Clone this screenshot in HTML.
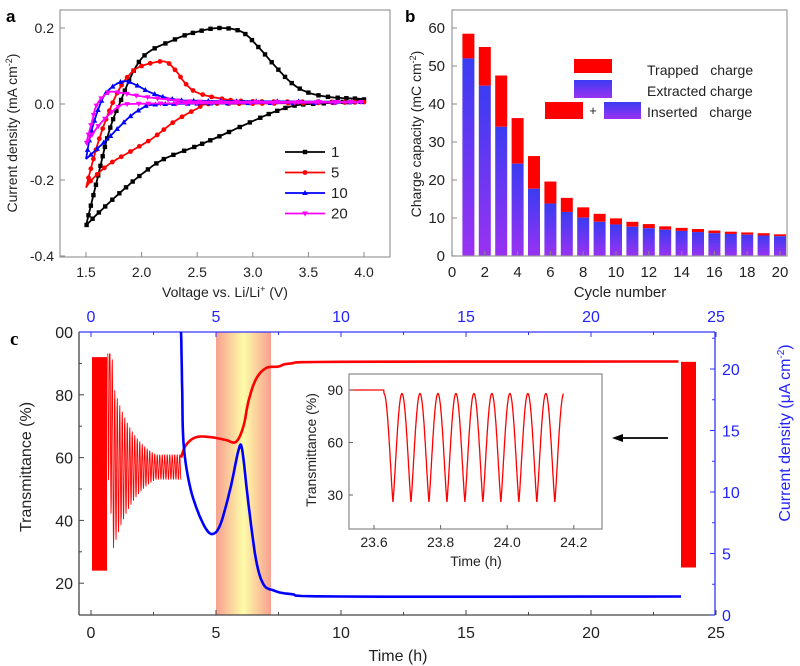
<!DOCTYPE html>
<html><head><meta charset="utf-8"><style>
body{margin:0;background:#fff}
svg{display:block;font-family:"Liberation Sans",sans-serif}
</style></head><body>
<svg id="s" width="800" height="666" viewBox="0 0 800 666" xmlns="http://www.w3.org/2000/svg">
<defs>
<linearGradient id="bg" x1="0" y1="0" x2="0" y2="1"><stop offset="0" stop-color="#3a3cf2"/><stop offset="1" stop-color="#9a32f2"/></linearGradient>
<linearGradient id="band" x1="0" y1="0" x2="1" y2="0"><stop offset="0" stop-color="#f8a090"/><stop offset="0.5" stop-color="#fdfca8"/><stop offset="1" stop-color="#f8a090"/></linearGradient>
</defs>
<g id="g"></g>
</svg>
<script>
var g=document.getElementById('g'),h='';
function P(a){return a.map(function(p,i){return (i?'L':'M')+p[0].toFixed(1)+' '+p[1].toFixed(1)}).join('')}
function T(x,y,t,o){h+='<text x="'+x+'" y="'+y+'" '+(o||'')+'>'+t+'</text>';}
function cr(pts,n){var out=[];for(var i=0;i<pts.length-1;i++){var p0=pts[Math.max(0,i-1)],p1=pts[i],p2=pts[i+1],p3=pts[Math.min(pts.length-1,i+2)];for(var k=0;k<n;k++){var t=k/n,t2=t*t,t3=t2*t;out.push([0,1].map(function(j){return 0.5*((2*p1[j])+(-p0[j]+p2[j])*t+(2*p0[j]-5*p1[j]+4*p2[j]-p3[j])*t2+(-p0[j]+3*p1[j]-3*p2[j]+p3[j])*t3)}))}}out.push(pts[pts.length-1]);return out}
// Panel a
var ax=function(V){return 86+(V-1.5)*111.2},ay=function(v){return 104-v*380};
h+='<rect x="60" y="10" width="330" height="247" fill="none" stroke="#999" stroke-width="1.2"/>';
[1.5,2,2.5,3,3.5,4].forEach(function(v){var x=ax(v);h+='<line x1="'+x+'" y1="257" x2="'+x+'" y2="252" stroke="#888"/>';T(x,277,v.toFixed(1),'font-size="14" text-anchor="middle" fill="#222"')});
[0.2,0,-0.2,-0.4].forEach(function(v){var y=ay(v);h+='<line x1="60" y1="'+y+'" x2="65" y2="'+y+'" stroke="#888"/>';T(54,y+5,v.toFixed(1),'font-size="14" text-anchor="end" fill="#222"')});
T(225,297,'Voltage vs. Li/Li<tspan dy="-5" font-size="9">+</tspan><tspan dy="5"> (V)</tspan>','font-size="14" text-anchor="middle" fill="#222"');
T(0,0,'Current density (mA cm<tspan dy="-5" font-size="9">-2</tspan><tspan dy="5">)</tspan>','font-size="14" text-anchor="middle" fill="#222" transform="translate(17,133) rotate(-90)"');
T(6,22,'a','font-size="17" font-weight="bold"');
var cv=[['#000','s',[[1.5,-0.32],[1.6,-0.2],[1.7,-0.08],[1.8,0.0],[2.0,0.12],[2.3,0.17],[2.5,0.19],[2.7,0.2],[2.9,0.19],[3.05,0.15],[3.2,0.1],[3.35,0.055],[3.5,0.03],[3.7,0.018],[4.0,0.012],[3.7,0.003],[3.4,-0.003],[3.2,-0.02],[3.0,-0.045],[2.7,-0.085],[2.5,-0.11],[2.2,-0.145],[2.0,-0.185],[1.8,-0.235],[1.6,-0.29],[1.5,-0.32]]],
['#f00','c',[[1.5,-0.22],[1.6,-0.11],[1.7,-0.025],[1.8,0.04],[1.9,0.08],[2.0,0.1],[2.2,0.112],[2.3,0.09],[2.4,0.052],[2.5,0.03],[2.7,0.015],[3.0,0.007],[4.0,0.005],[3.0,0.001],[2.6,0.0],[2.5,-0.012],[2.3,-0.045],[2.1,-0.09],[1.9,-0.125],[1.7,-0.16],[1.55,-0.2],[1.5,-0.22]]],
['#00f','t',[[1.5,-0.145],[1.55,-0.07],[1.65,0.015],[1.75,0.048],[1.85,0.06],[1.95,0.05],[2.1,0.028],[2.3,0.012],[2.6,0.008],[4.0,0.005],[2.5,0.001],[2.1,-0.002],[2.0,-0.012],[1.9,-0.032],[1.8,-0.06],[1.7,-0.09],[1.6,-0.118],[1.5,-0.145]]],
['#f0f','v',[[1.5,-0.105],[1.55,-0.05],[1.6,0.0],[1.7,0.03],[1.8,0.03],[2.0,0.02],[2.3,0.01],[2.6,0.006],[4.0,0.005],[2.5,0.002],[1.9,0.0],[1.8,-0.006],[1.7,-0.03],[1.6,-0.062],[1.5,-0.105]]]];
function mk(t,x,y,c){if(t=='s')return '<rect x="'+(x-2.2)+'" y="'+(y-2.2)+'" width="4.4" height="4.4" fill="'+c+'"/>';if(t=='c')return '<circle cx="'+x+'" cy="'+y+'" r="2.4" fill="'+c+'"/>';if(t=='t')return '<path d="M'+x+' '+(y-3)+'l2.8 5h-5.6z" fill="'+c+'"/>';return '<path d="M'+x+' '+(y+3)+'l2.8 -5h-5.6z" fill="'+c+'"/>';}
cv.forEach(function(c){var pts=c[2].map(function(p){return [ax(p[0]),ay(p[1])]});var d=cr(pts,10);h+='<path d="'+P(d)+'" fill="none" stroke="'+c[0]+'" stroke-width="1.8"/>';var acc=0;for(var i=1;i<d.length;i++){acc+=Math.hypot(d[i][0]-d[i-1][0],d[i][1]-d[i-1][1]);if(acc>8.5){acc=0;h+=mk(c[1],d[i][0],d[i][1],c[0])}}});
var lg=[['#000','s','1'],['#f00','c','5'],['#00f','t','10'],['#f0f','v','20']];
lg.forEach(function(l,i){var y=152+i*20.5;h+='<line x1="285" y1="'+y+'" x2="325" y2="'+y+'" stroke="'+l[0]+'" stroke-width="1.8"/>'+mk(l[1],305,y,l[0]);T(331,y+5,l[2],'font-size="15" fill="#222"')});
// Panel b
var bx=function(n){return 452+n*16.4},by=function(v){return 256-v*3.8};
var bars=[[58.5,52],[55,44.8],[47.5,34],[36.3,24.3],[26.3,17.7],[19.6,13.8],[15.3,11.6],[12.8,10.1],[11.1,9],[9.9,8.3],[9,7.7],[8.4,7.3],[7.8,6.9],[7.4,6.6],[7.1,6.3],[6.7,6],[6.4,5.8],[6.2,5.6],[6,5.4],[5.7,5.2]];
bars.forEach(function(b,i){var x=bx(i+1)-6;h+='<rect x="'+x+'" y="'+by(b[0])+'" width="12" height="'+(by(b[1])-by(b[0]))+'" fill="#f00"/><rect x="'+x+'" y="'+by(b[1])+'" width="12" height="'+(256-by(b[1]))+'" fill="url(#bg)"/>'});
h+='<rect x="452" y="10" width="335" height="246" fill="none" stroke="#999" stroke-width="1.2"/>';
for(var n=0;n<=20;n+=2){var x=bx(n);h+='<line x1="'+x+'" y1="256" x2="'+x+'" y2="251" stroke="#888"/>';T(x,277,n,'font-size="15" text-anchor="middle" fill="#222"')}
for(var v=0;v<=60;v+=10){var y=by(v);h+='<line x1="452" y1="'+y+'" x2="457" y2="'+y+'" stroke="#888"/>';T(445,y+5,v,'font-size="15" text-anchor="end" fill="#222"')}
T(620,297,'Cycle number','font-size="15" text-anchor="middle" fill="#222"');
T(0,0,'Charge capacity (mC cm<tspan dy="-5" font-size="9">-2</tspan><tspan dy="5">)</tspan>','font-size="14" text-anchor="middle" fill="#222" transform="translate(421,134) rotate(-90)"');
T(405,22,'b','font-size="17" font-weight="bold"');
h+='<rect x="574" y="59" width="38" height="14" fill="#f00"/><rect x="574" y="80" width="38" height="18" fill="url(#bg)"/><rect x="545" y="102" width="38" height="17" fill="#f00"/><rect x="604" y="102" width="37" height="17" fill="url(#bg)"/>';
T(593,115,'+','font-size="13" text-anchor="middle" fill="#222"');
T(647,75,'Trapped &#160; charge','font-size="14" fill="#222"');T(647,96,'Extracted charge','font-size="14" fill="#222"');T(647,117,'Inserted &#160; charge','font-size="14" fill="#222"');
// Panel c
var cx=function(t){return 91+t*25},cyT=function(v){return 332+(100-v)*3.14},cyJ=function(v){return 615-v*12.3};
h+='<rect x="216" y="332" width="55" height="283" fill="url(#band)"/>';
h+='<line x1="79" y1="332" x2="79" y2="615" stroke="#444" stroke-width="1.3"/><line x1="79" y1="615" x2="715" y2="615" stroke="#444" stroke-width="1.3"/><line x1="79" y1="332" x2="715" y2="332" stroke="#33f" stroke-width="1.3"/><line x1="715" y1="332" x2="715" y2="615" stroke="#33f" stroke-width="1.3"/>';
for(var t=0;t<=25;t+=2.5){var x=cx(t);var mj=t%5==0;h+='<line x1="'+x+'" y1="615" x2="'+x+'" y2="'+(615-(mj?5:3))+'" stroke="#444"/><line x1="'+x+'" y1="332" x2="'+x+'" y2="'+(332+(mj?5:3))+'" stroke="#33f"/>';if(mj){T(x,638,t,'font-size="16" text-anchor="middle" fill="#222"');T(x,322,t,'font-size="16" text-anchor="middle" fill="#22f"')}}
[20,40,60,80].forEach(function(v){var y=cyT(v);h+='<line x1="79" y1="'+y+'" x2="84" y2="'+y+'" stroke="#444"/>';T(73,y+6,v,'font-size="16" text-anchor="end" fill="#222"')});
[30,50,70,90].forEach(function(v){var y=cyT(v);h+='<line x1="79" y1="'+y+'" x2="82" y2="'+y+'" stroke="#444"/>'});
T(73,338,'00','font-size="16" text-anchor="end" fill="#222"');
for(var j=0;j<=22.5;j+=2.5){var y=cyJ(j);h+='<line x1="715" y1="'+y+'" x2="'+(715-(j%5==0?5:3))+'" y2="'+y+'" stroke="#33f"/>';if(j%5==0)T(722,y+6,j,'font-size="16" fill="#22f"')}
T(398,661,'Time (h)','font-size="16" text-anchor="middle" fill="#222"');
T(0,0,'Transmittance (%)','font-size="16" text-anchor="middle" fill="#222" transform="translate(31,467) rotate(-90)"');
T(0,0,'Current density (μA cm<tspan dy="-6" font-size="10">-2</tspan><tspan dy="6">)</tspan>','font-size="16" text-anchor="middle" fill="#22f" transform="translate(790,433) rotate(-90)"');
T(10,345,'c','font-size="19" font-weight="bold" font-family="Liberation Serif"');
// red T
h+='<rect x="92" y="'+cyT(92)+'" width="15" height="'+(cyT(24)-cyT(92))+'" fill="#f00"/>';
var r=[];for(var t=0.65;t<=3.6;t+=0.01){var a=Math.max(4,34*Math.exp(-(t-0.65)*1.1));var c=57+ (t<1?(92-57)*Math.max(0,1-(t-0.65)*4):0);r.push([cx(t),cyT(Math.min(93,Math.max(17,c+a*Math.cos((t-0.65)/0.1*2*Math.PI))))])}
h+='<path d="'+P(r)+'" fill="none" stroke="#f00" stroke-width="0.9"/>';
var rt=cr([[3.6,60],[3.8,64],[4.2,66.5],[4.8,66.5],[5.4,65.6],[5.8,65],[6.1,70],[6.3,78],[6.6,85],[7.0,88.5],[7.5,89],[8,90],[10,90.5],[23.5,90.6]].map(function(p){return [cx(p[0]),cyT(p[1])]}),6);
h+='<path d="'+P(rt)+'" fill="none" stroke="#f00" stroke-width="2.6"/>';
h+='<rect x="681" y="'+cyT(90.5)+'" width="15" height="'+(cyT(25)-cyT(90.5))+'" fill="#f00"/>';
var bj=cr([[3.6,24],[3.65,18],[3.7,14],[3.9,11],[4.2,8.8],[4.6,7],[4.9,6.6],[5.2,7.5],[5.6,10.5],[5.9,13.4],[6.05,13.4],[6.3,9],[6.6,4.5],[6.9,2.5],[7.3,2],[8,1.7],[10,1.5],[23.6,1.5]].map(function(p){return [cx(p[0]),cyJ(p[1])]}),6).filter(function(p){return p[1]>=332});
h+='<path d="M'+cx(3.6)+' 332'+P(bj).replace('M','L')+'" fill="none" stroke="#00f" stroke-width="2.6"/>';
// inset
var ix=function(t){return 374+(t-23.6)*333},iy=function(v){return 390+(90-v)*1.75};
h+='<rect x="349" y="374" width="253" height="155" fill="#fff" stroke="#888" stroke-width="1.2"/>';
var ins=[];for(var t=23.5;t<=24.17;t+=0.001){var v=90;if(t>23.63){var ph=(t-23.63)/0.054;var cc=Math.cos(2*Math.PI*ph);v=Math.min(90,26+62*Math.pow((1+cc)/2,0.6));}ins.push([ix(t),iy(v)])}
h+='<path d="'+P(ins.filter(function(p){return p[0]>=350})) +'" fill="none" stroke="#f00" stroke-width="1.3"/>';
[23.6,23.8,24.0,24.2].forEach(function(t){var x=ix(t);h+='<line x1="'+x+'" y1="529" x2="'+x+'" y2="525" stroke="#666"/>';T(x,547,t.toFixed(1),'font-size="14" text-anchor="middle" fill="#222"')});
[30,60,90].forEach(function(v){var y=iy(v);h+='<line x1="349" y1="'+y+'" x2="353" y2="'+y+'" stroke="#666"/>';T(343,y+5,v,'font-size="14" text-anchor="end" fill="#222"')});
T(476,566,'Time (h)','font-size="14" text-anchor="middle" fill="#222"');
T(0,0,'Transmittance (%)','font-size="14" text-anchor="middle" fill="#222" transform="translate(316,450) rotate(-90)"');
h+='<line x1="668" y1="438" x2="620" y2="438" stroke="#000" stroke-width="1.8"/><path d="M612 438l11 -4v8z" fill="#000"/>';
g.innerHTML=h;
</script>
</body></html>
